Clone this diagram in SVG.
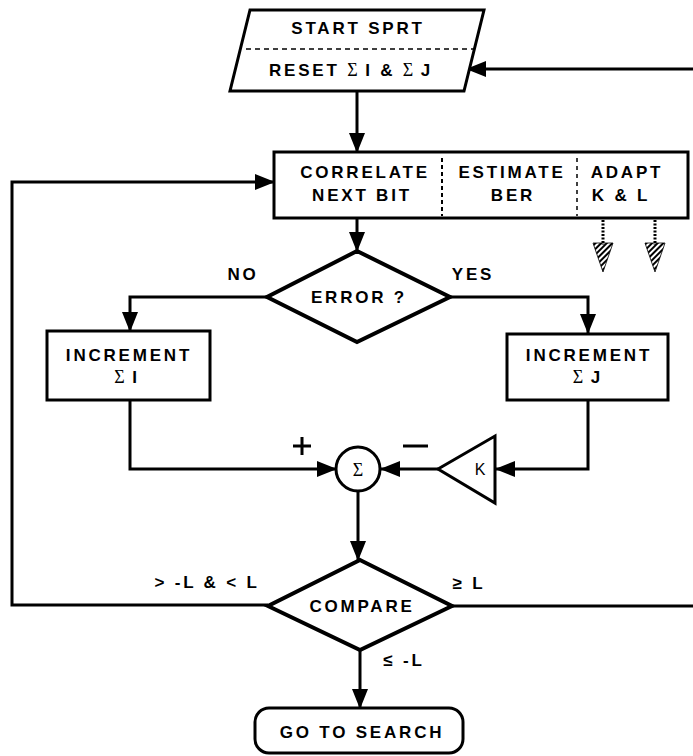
<svg xmlns="http://www.w3.org/2000/svg" width="693" height="756" viewBox="0 0 693 756">
<style>
.n{fill:#fff;stroke:#000;stroke-width:3}
.d{fill:#fff;stroke:#000;stroke-width:4;stroke-linejoin:miter}
.c{fill:none;stroke:#000;stroke-width:3}
.t{font-family:"Liberation Sans",Arial,sans-serif;font-weight:bold;font-size:17px;letter-spacing:2.8px;fill:#000;text-anchor:middle}
.s{font-family:"Liberation Serif","Times New Roman",serif;font-weight:normal;font-size:18px;letter-spacing:0}
</style>
<defs>
<marker id="ab" markerWidth="20" markerHeight="20" refX="19" refY="10" orient="auto" markerUnits="userSpaceOnUse" viewBox="0 0 20 20">
<path d="M0,2 L20,10 L0,18 Z" fill="#000"/>
</marker>
<pattern id="h" width="4" height="4" patternUnits="userSpaceOnUse" patternTransform="rotate(45)">
<rect width="2" height="4" fill="#000"/>
</pattern>
</defs>

<g id="connectors">
<path class="c" d="M693,606 L452,606"/>
<path class="c" d="M693,69 L467,69" marker-end="url(#ab)"/>
<path class="c" d="M357,91 L357,152" marker-end="url(#ab)"/>
<path class="c" d="M268,605 L12,605 L12,182 L274,182" marker-end="url(#ab)"/>
<path class="c" d="M357,218 L357,251" marker-end="url(#ab)"/>
<path class="c" d="M267,297 L130,297 L130,331" marker-end="url(#ab)"/>
<path class="c" d="M450,297 L588,297 L588,333" marker-end="url(#ab)"/>
<path class="c" d="M130,400 L130,469 L336,469" marker-end="url(#ab)"/>
<path class="c" d="M588,400 L588,469 L496,469" marker-end="url(#ab)"/>
<path class="c" d="M438,469 L381,469" marker-end="url(#ab)"/>
<path class="c" d="M358,491 L358,560" marker-end="url(#ab)"/>
<path class="c" d="M360,650 L360,708" marker-end="url(#ab)"/>
<g id="hatched">
<path d="M603,220 L603,245" stroke="#000" stroke-width="3" stroke-dasharray="2,1.5"/>
<path d="M593,243 L613,243 L603,272 Z" fill="url(#h)" stroke="#000" stroke-width="0.8"/>
<path d="M655,220 L655,245" stroke="#000" stroke-width="3" stroke-dasharray="2,1.5"/>
<path d="M645,243 L665,243 L655,272 Z" fill="url(#h)" stroke="#000" stroke-width="0.8"/>
</g>
</g>

<g id="start">
<path class="n" d="M250,10 L484,10 L464,91 L230,91 Z"/>
<line x1="246" y1="49" x2="474" y2="49" stroke="#000" stroke-width="1.5" stroke-dasharray="5,4"/>
<text class="t" x="358" y="34">START  SPRT</text>
<text class="t" x="351" y="76">RESET  <tspan class="s">Σ</tspan> I &amp; <tspan class="s">Σ</tspan> J</text>
</g>

<g id="process">
<rect class="n" x="274" y="152" width="414" height="66"/>
<line x1="442" y1="158" x2="442" y2="216" stroke="#000" stroke-width="2" stroke-dasharray="4,3"/>
<line x1="577" y1="158" x2="577" y2="216" stroke="#000" stroke-width="1.5" stroke-dasharray="4,4"/>
<text class="t" x="365" y="178">CORRELATE</text>
<text class="t" x="362" y="201">NEXT BIT</text>
<text class="t" x="512" y="178">ESTIMATE</text>
<text class="t" x="513" y="201">BER</text>
<text class="t" x="627" y="178">ADAPT</text>
<text class="t" x="621" y="201">K &amp; L</text>
</g>

<g id="error">
<path class="d" d="M357,251 L450,297 L357,342 L267,297 Z"/>
<text class="t" x="359" y="303">ERROR ?</text>
</g>
<text class="t" x="243" y="280">NO</text>
<text class="t" x="473" y="280">YES</text>

<g id="incI">
<rect class="n" x="47" y="331" width="163" height="69"/>
<text class="t" x="129" y="361">INCREMENT</text>
<text class="t" x="127" y="383"><tspan class="s">Σ</tspan> I</text>
</g>

<g id="incJ">
<rect class="n" x="507" y="334" width="161" height="66"/>
<text class="t" x="589" y="361">INCREMENT</text>
<text class="t" x="588" y="383"><tspan class="s">Σ</tspan> J</text>
</g>

<g id="sum">
<circle class="n" cx="358" cy="469" r="22"/>
<text x="358" y="476" font-family="Liberation Serif, serif" font-size="18" text-anchor="middle">Σ</text>
</g>
<path d="M293,446 L311,446 M302,437 L302,455" stroke="#000" stroke-width="3"/>
<path d="M403,446 L428,446" stroke="#000" stroke-width="3"/>

<g id="gain">
<path class="n" d="M438,469 L495,436 L495,503 Z"/>
<text x="480" y="475" font-family="Liberation Sans, Arial, sans-serif" font-size="16" text-anchor="middle">K</text>
</g>

<g id="compare">
<path class="d" d="M360,560 L452,606 L360,650 L268,606 Z"/>
<text class="t" x="362" y="612">COMPARE</text>
</g>
<text class="t" x="207" y="588">&gt; -L &amp; &lt; L</text>
<text class="t" x="469" y="589">≥ L</text>
<text class="t" x="404" y="666">≤ -L</text>

<g id="search">
<rect class="n" x="255" y="708" width="208" height="45" rx="14"/>
<text class="t" x="362" y="738">GO TO SEARCH</text>
</g>
</svg>
